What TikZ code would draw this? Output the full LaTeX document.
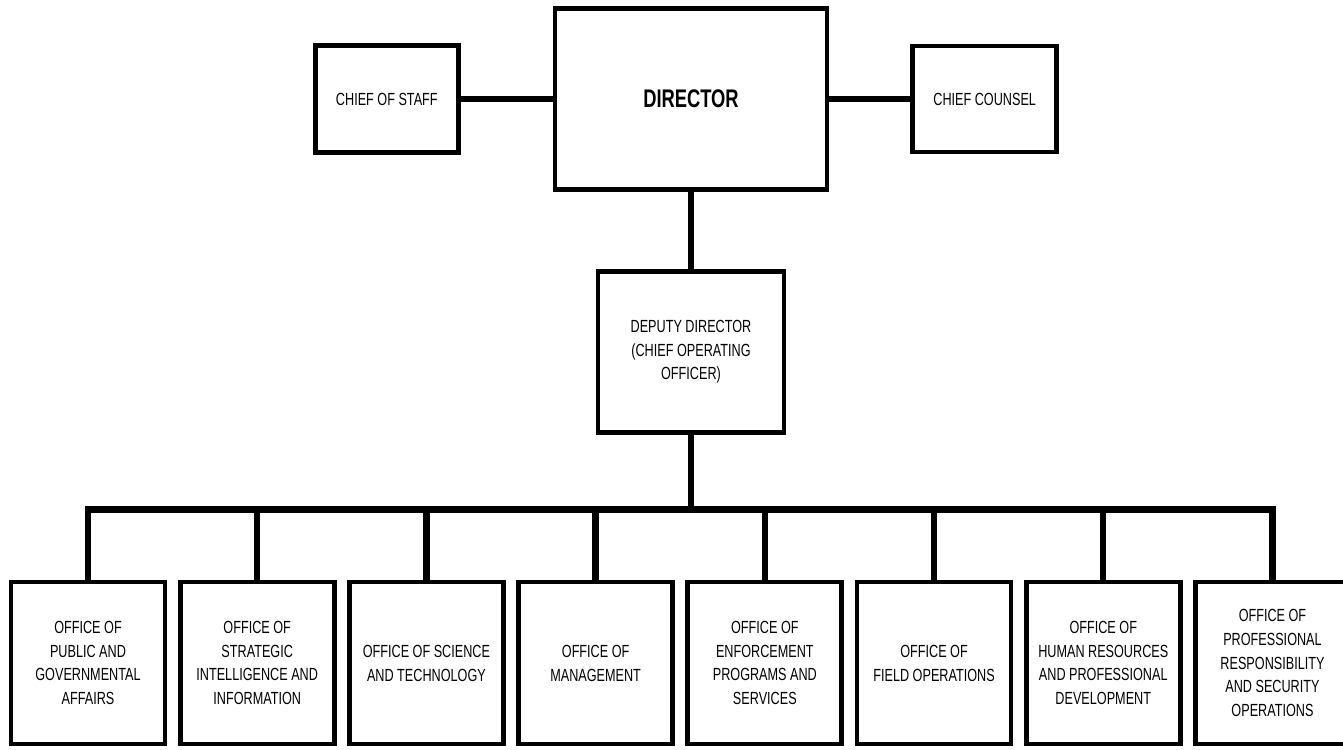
\documentclass[tikz,border=0pt]{standalone}
\usepackage{fontspec}
\setmainfont{Liberation Sans}[FakeStretch=0.72]
\usetikzlibrary{positioning}

\begin{document}
\begin{tikzpicture}[x=0.02cm, y=-0.02cm,
	box/.style={draw, line width=2.7pt, align=center, inner sep=2pt, font=\fontsize{10}{13.6}\selectfont},
	office/.style={box, minimum width=3.08cm, minimum height=3.24cm},
	link/.style={line width=3.6pt}]
		\useasboundingbox (0,0) rectangle (1343,750);

		\node[box,minimum width=5.44cm,minimum height=3.62cm,font=\fontsize{14.5}{17}\bfseries] (director) at (691,99) {DIRECTOR};
		\node[box,minimum width=2.86cm,minimum height=2.14cm,left=1.84cm of director] (staff) {CHIEF OF STAFF};
		\node[box,minimum width=2.88cm,minimum height=2.12cm,right=1.62cm of director] (counsel) {CHIEF COUNSEL};
		\node[box,minimum width=3.72cm,minimum height=3.22cm,below=1.54cm of director] (deputy) {DEPUTY DIRECTOR\\(CHIEF OPERATING\\OFFICER)};

		\draw[link] (staff) -- (director);
		\draw[link] (director) -- (counsel);
		\draw[link] (director) -- (deputy);

		% offices under the deputy director.
		\node[office] (pga) at (88,663) {OFFICE OF\\PUBLIC AND\\GOVERNMENTAL\\AFFAIRS};
		\node[office,right=0.21cm of pga] (sii) {OFFICE OF\\STRATEGIC\\INTELLIGENCE AND\\INFORMATION};
		\node[office,right=0.21cm of sii] (sci) {OFFICE OF SCIENCE\\AND TECHNOLOGY};
		\node[office,right=0.21cm of sci] (mgmt) {OFFICE OF\\MANAGEMENT};
		\node[office,right=0.21cm of mgmt] (eps) {OFFICE OF\\ENFORCEMENT\\PROGRAMS AND\\SERVICES};
		\node[office,right=0.21cm of eps] (field) {OFFICE OF\\FIELD OPERATIONS};
		\node[office,right=0.21cm of field] (hr) {OFFICE OF\\HUMAN RESOURCES\\AND PROFESSIONAL\\DEVELOPMENT};
		\node[office,right=0.21cm of hr] (prso) {OFFICE OF\\PROFESSIONAL\\RESPONSIBILITY\\AND SECURITY\\OPERATIONS};

		\coordinate[below=1.5cm of deputy] (bus);
		\draw[link] (deputy) -- (bus);
		\draw[link] (pga.north) |- (bus) -| (prso.north);
		\draw[link] (sii.north) -- (sii.north |- bus);
		\draw[link] (sci.north) -- (sci.north |- bus);
		\draw[link] (mgmt.north) -- (mgmt.north |- bus);
		\draw[link] (eps.north) -- (eps.north |- bus);
		\draw[link] (field.north) -- (field.north |- bus);
		\draw[link] (hr.north) -- (hr.north |- bus);
	\end{tikzpicture}
\end{document}
